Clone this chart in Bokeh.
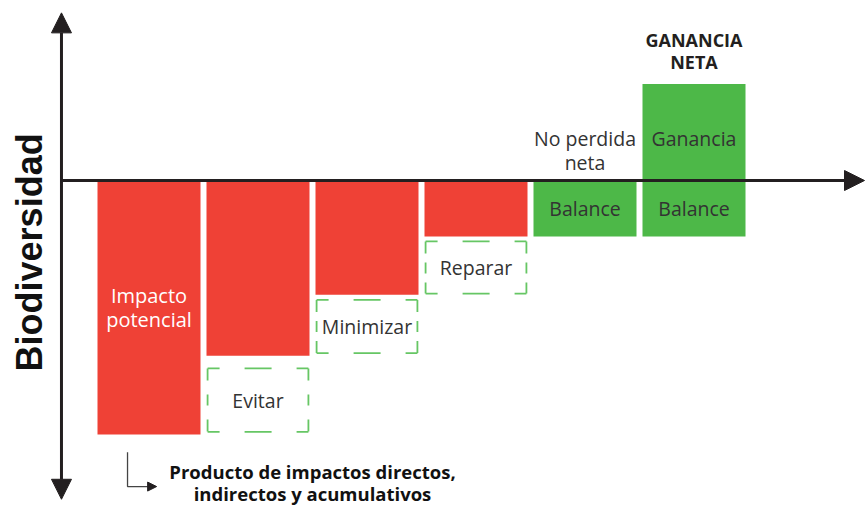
from bokeh.plotting import figure
from bokeh.models import Arrow, NormalHead, Range1d
from bokeh.core.properties import value
from bokeh.embed import file_html
from bokeh.resources import INLINE

# ---- data ----
steps = ["Impacto potencial", "Evitar", "Minimizar", "Reparar", "Balance", "Ganancia"]
red_idx = [0, 1, 2, 3]
red_depth = [100, 69, 45, 22]            # remaining impact (below the axis)
box_idx = [1, 2, 3]
box_labels = ["Evitar", "Minimizar", "Reparar"]
box_top = [-74, -47, -24]                 # avoided / minimised / repaired share
box_bottom = [-99, -68, -44.5]
green_idx = [4, 5]
green_bottom = [-22, -22]                 # balance (offsets)
green_top = [0, 38]                       # net gain above axis
balance_label = "Balance"

RED = "#EF4136"
GREEN = "#4DB848"
DASH_GREEN = "#66C664"
DARK = "#231F20"
TXT = "#333333"
FONT = "Open Sans"

W, H = 866, 508
PX_X = 109.0
PX_Y = 2.54
x0 = -148.5 / PX_X
xr = Range1d(x0, x0 + W / PX_X)
yr = Range1d(-(H - 180) / PX_Y, 180 / PX_Y)

p = figure(width=W, height=H, x_range=xr, y_range=yr, output_backend="svg",
           toolbar_location=None, min_border=0, outline_line_color=None)
p.axis.visible = False
p.grid.visible = False
p.background_fill_color = "white"

bw = 0.945
# red bars
p.vbar(x=red_idx, width=bw, top=[-0.5] * len(red_idx), bottom=[-d for d in red_depth],
       fill_color=RED, line_color=None)
# green bars
p.vbar(x=green_idx, width=bw, top=green_top, bottom=green_bottom,
       fill_color=GREEN, line_color=None)

# dashed boxes: L-shaped corners plus one dash centred on each side
CORNER, HDASH, VDASH = 12, 27, 11
for i, t, b in zip(box_idx, box_top, box_bottom):
    L, R = i - bw / 2 + 0.01, i + bw / 2 - 0.01
    hlen = (R - L) * PX_X
    vlen = (t - b) * PX_Y
    gh = max(1, round((hlen - 2 * CORNER - HDASH) / 2))
    gv = max(1, round((vlen - 2 * CORNER - VDASH) / 2))
    p.segment(x0=[L, L], y0=[t, b], x1=[R, R], y1=[t, b], line_color=DASH_GREEN,
              line_width=1.8, line_dash=f"{CORNER} {gh} {HDASH} {gh} {CORNER} 100")
    p.segment(x0=[L, R], y0=[t, t], x1=[L, R], y1=[b, b], line_color=DASH_GREEN,
              line_width=1.8, line_dash=f"{CORNER} {gv} {VDASH} {gv} {CORNER} 100")

# labels in red bar
p.text(x=[red_idx[0]], y=[-red_depth[0] / 2], text=["Impacto\npotencial"],
       text_color="white", text_font=value(FONT), text_font_size="20px",
       text_align="center", text_baseline="middle", text_line_height=0.88)
# dashed box labels
p.text(x=box_idx, y=[(t + b) / 2 for t, b in zip(box_top, box_bottom)], text=box_labels,
       text_color=TXT, text_font=value(FONT), text_font_size="19.5px",
       text_align="center", text_baseline="middle")
# balance labels
p.text(x=green_idx, y=[b / 2 for b in green_bottom], text=[balance_label] * 2,
       text_color=TXT, text_font=value(FONT), text_font_size="19.5px",
       text_align="center", text_baseline="middle")
p.text(x=[green_idx[1]], y=[green_top[1] / 2 - 2.5], text=["Ganancia"],
       text_color=TXT, text_font=value(FONT), text_font_size="19.5px",
       text_align="center", text_baseline="middle")
p.text(x=[green_idx[0]], y=[11.8], text=["No perdida\nneta"],
       text_color=TXT, text_font=value(FONT), text_font_size="19.5px",
       text_align="center", text_baseline="middle", text_line_height=0.905)
p.text(x=[green_idx[1]], y=[green_top[1] + 13], text=["GANANCIA\nNETA"],
       text_color=DARK, text_font=value(FONT), text_font_style="bold",
       text_font_size="18px", text_align="center", text_baseline="middle",
       text_line_height=0.94)

# axis title
p.text(x=[-1.096], y=[-28.3], text=["Biodiversidad"], angle=1.5708,
       text_color="#111111", text_font=value("Liberation Sans"), text_font_style="bold",
       text_font_size="36px", text_align="center", text_baseline="middle")

# footnote
p.text(x=[1.5], y=[-118.9], text=["Producto de impactos directos,\nindirectos y acumulativos"],
       text_color="#111111", text_font=value(FONT), text_font_style="bold",
       text_font_size="18.5px", text_align="center", text_baseline="middle",
       text_line_height=0.91)
p.line(x=[-0.197, -0.197, 0.03], y=[-107, -120.5, -120.5], line_color="#444444",
       line_width=1.3)
p.add_layout(Arrow(end=NormalHead(size=9, fill_color=DARK, line_color=DARK),
                   x_start=0.02, y_start=-120.5, x_end=0.07, y_end=-120.5,
                   line_color="#444444", line_width=1.3))

# axes
ax_x = -0.803
p.add_layout(Arrow(start=NormalHead(size=20, fill_color=DARK, line_color=DARK),
                   end=NormalHead(size=20, fill_color=DARK, line_color=DARK),
                   x_start=ax_x, y_start=-125.5, x_end=ax_x, y_end=66.0,
                   line_color=DARK, line_width=3))
p.add_layout(Arrow(end=NormalHead(size=20, fill_color=DARK, line_color=DARK),
                   x_start=ax_x, y_start=0, x_end=x0 + 864 / PX_X, y_end=0,
                   line_color=DARK, line_width=3))

open("out.html", "w").write(file_html(p, INLINE))
